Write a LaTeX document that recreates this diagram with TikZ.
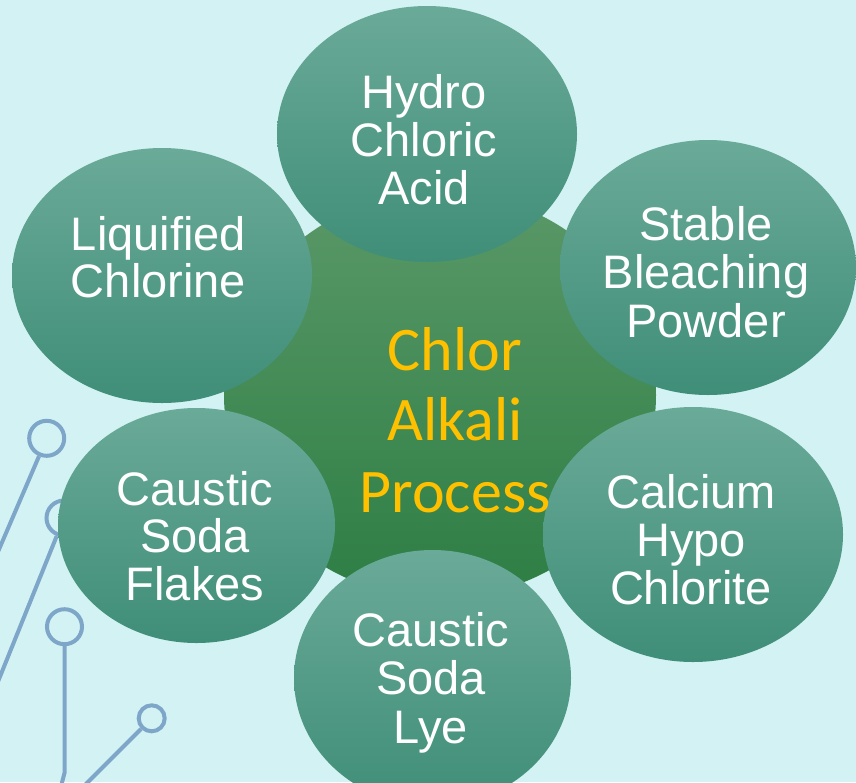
\documentclass[tikz,border=0pt]{standalone}
\usepackage{fontspec}
\setmainfont{Liberation Sans}
\newfontfamily\calibfont{Carlito}
\usetikzlibrary{shapes.geometric}
\definecolor{bgc}{RGB}{211,242,244}
\definecolor{ringc}{RGB}{125,166,200}
\definecolor{ctop}{RGB}{90,152,104}
\definecolor{cbot}{RGB}{45,126,68}
\definecolor{otop}{RGB}{106,170,152}
\definecolor{obot}{RGB}{63,142,120}
\definecolor{gold}{RGB}{255,192,0}
\begin{document}
\begin{tikzpicture}[x=1pt,y=1pt,
  outer/.style={ellipse, draw=none, top color=otop, bottom color=obot, inner sep=0pt},
  core/.style={ellipse, draw=none, top color=ctop, bottom color=cbot, inner sep=0pt},
  lbl/.style={text=white, font=\fontsize{47}{48}\selectfont, anchor=base, inner sep=0pt},
  ctr/.style={text=gold, font=\calibfont\fontsize{62}{70}\selectfont, anchor=base, inner sep=0pt},
  wire/.style={draw=ringc, line width=4pt},
  ring/.style={circle, draw=ringc, line width=4pt, fill=bgc, minimum size=35pt, inner sep=0pt}]
\fill[bgc] (0,0) rectangle (856,-782);
\useasboundingbox (0,0) rectangle (856,-782);
% decoration
\node[ring] (ra) at (46.7,-438.3) {};
\coordinate (ea) at (-5,-558.7);
\draw[wire] (ra) -- (ea);
\node[ring] (rb) at (64,-518) {};
\coordinate (eb) at (-5,-689);
\draw[wire] (rb) -- (eb);
\node[ring] (rc) at (64.5,-626.7) {};
\coordinate (cb) at (64.5,-773);
\coordinate (ce) at (59.5,-792);
\draw[wire] (rc) -- (cb) -- (ce);
\node[ring, minimum size=26pt] (rd) at (151.7,-718.3) {};
\coordinate (ed) at (78,-792);
\draw[wire] (rd) -- (ed);
% central
\node[core, minimum width=432pt, minimum height=406pt] (ctrl) at (440,-395) {};
% outer
\node[outer, minimum width=300pt, minimum height=256pt] (hcl) at (427,-134) {};
\node[outer, minimum width=300pt, minimum height=255pt] (liq) at (162,-275.5) {};
\node[outer, minimum width=296pt, minimum height=255pt] (sbp) at (708,-267.5) {};
\node[outer, minimum width=300pt, minimum height=255pt] (chc) at (693,-534.5) {};
\node[outer, minimum width=277pt, minimum height=256pt] (lye) at (432.5,-678) {};
\node[outer, minimum width=277pt, minimum height=235pt] (flk) at (196.5,-525.5) {};
% texts
\node[lbl] (t1a) at (424,-108) {Hydro};
\node[lbl] (t1b) at (424,-156) {Chloric};
\node[lbl] (t1c) at (424,-204) {Acid};
\node[lbl] (t2a) at (158.5,-250) {Liquified};
\node[lbl] (t2b) at (158.5,-297) {Chlorine};
\node[lbl] (t3a) at (706,-240) {Stable};
\node[lbl] (t3b) at (706,-288) {Bleaching};
\node[lbl] (t3c) at (706,-337) {Powder};
\node[lbl] (t4a) at (691,-508) {Calcium};
\node[lbl] (t4b) at (691,-556) {Hypo};
\node[lbl] (t4c) at (691,-604) {Chlorite};
\node[lbl] (t5a) at (431,-646) {Caustic};
\node[lbl] (t5b) at (431,-694) {Soda};
\node[lbl] (t5c) at (431,-743) {Lye};
\node[lbl] (t6a) at (195,-505) {Caustic};
\node[lbl] (t6b) at (195,-552) {Soda};
\node[lbl] (t6c) at (195,-600) {Flakes};
\node[ctr] (c1) at (455,-370) {Chlor};
\node[ctr] (c2) at (455,-440) {Alkali};
\node[ctr] (c3) at (455,-512) {Process};
\end{tikzpicture}
\end{document}
